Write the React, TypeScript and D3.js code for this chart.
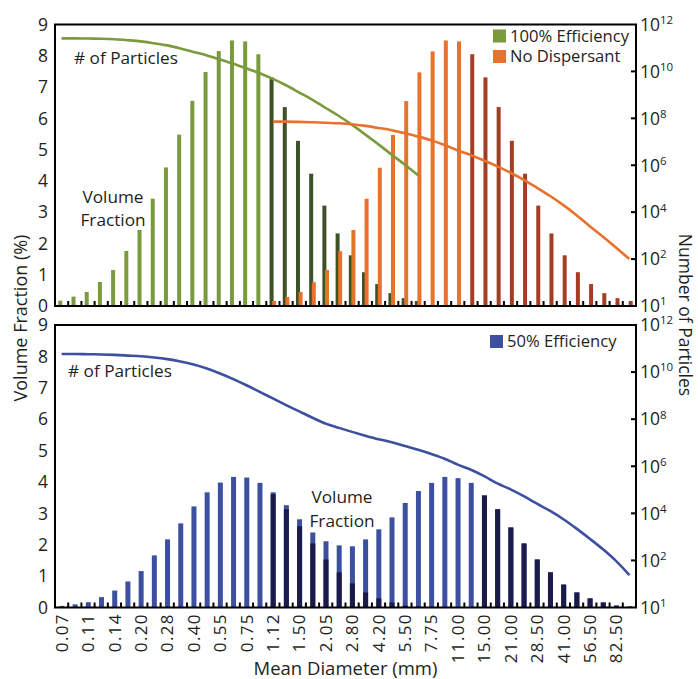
import React from 'react';
import * as d3 from 'd3';

// x categories: one label every other bin (44 bins)
const diameterLabels = ['0.07', '0.11', '0.14', '0.20', '0.28', '0.40', '0.55', '0.75', '1.12', '1.50', '2.05',
  '2.80', '4.20', '5.50', '7.75', '11.00', '15.00', '21.00', '28.50', '41.00', '56.50', '82.50'];
const binCount = 44;

// top panel: volume fraction (%)
const eff100Start = 0;
const eff100Volume = [0.17, 0.30, 0.45, 0.77, 1.15, 1.76, 2.43, 3.43, 4.43, 5.48, 6.56, 7.48, 8.15, 8.49,
  8.46, 8.05, 7.31, 6.36, 5.28, 4.23, 3.21, 2.32, 1.62, 1.08, 0.70, 0.41, 0.25, 0.16];
const noDispStart = 16;
const noDispVolume = [0.16, 0.29, 0.45, 0.76, 1.15, 1.75, 2.43, 3.43, 4.42, 5.47, 6.55, 7.47, 8.14, 8.49,
  8.46, 8.05, 7.31, 6.36, 5.28, 4.23, 3.21, 2.32, 1.62, 1.08, 0.70, 0.41, 0.25, 0.16];
const eff100DarkFrom = 16;
const noDispDarkFrom = 31;

// top panel: number of particles (log10)
const eff100Particles = [11.41, 11.41, 11.40, 11.39, 11.37, 11.33, 11.28, 11.20, 11.11, 10.98, 10.83, 10.68,
  10.51, 10.33, 10.13, 9.92, 9.68, 9.41, 9.10, 8.79, 8.44, 8.10, 7.72, 7.31, 6.89, 6.45, 6.02, 5.57];
const noDispParticles = [7.86, 7.86, 7.85, 7.83, 7.81, 7.79, 7.75, 7.68, 7.59, 7.49, 7.36, 7.22, 7.06, 6.86,
  6.63, 6.43, 6.20, 5.95, 5.68, 5.38, 5.04, 4.69, 4.30, 3.87, 3.40, 2.95, 2.48, 2.00];

// bottom panel: 50% efficiency
const eff50Volume = [0.05, 0.10, 0.17, 0.33, 0.54, 0.83, 1.16, 1.66, 2.17, 2.68, 3.22, 3.67, 3.98, 4.16,
  4.14, 3.97, 3.67, 3.26, 2.81, 2.39, 2.11, 1.98, 1.95, 2.17, 2.49, 2.87, 3.33, 3.71, 3.97, 4.16,
  4.12, 3.97, 3.57, 3.13, 2.55, 2.04, 1.53, 1.12, 0.73, 0.48, 0.29, 0.16, 0.06, 0.03];
const eff50Dark = [0, 0, 0, 0, 0, 0, 0, 0, 0, 0, 0, 0, 0, 0,
  0, 0, 3.61, 3.13, 2.59, 2.04, 1.53, 1.12, 0.77, 0.48, 0.29, 0.16, 0.06, 0.03, 0, 0,
  0, 0, 3.57, 3.13, 2.55, 2.04, 1.53, 1.12, 0.73, 0.48, 0.29, 0.16, 0.06, 0.03];
const eff50Particles = [10.77, 10.77, 10.76, 10.75, 10.73, 10.70, 10.67, 10.62, 10.55, 10.45, 10.32, 10.15,
  9.94, 9.70, 9.44, 9.16, 8.88, 8.60, 8.33, 8.06, 7.81, 7.63, 7.46, 7.30, 7.15, 7.02, 6.86, 6.70,
  6.52, 6.32, 6.07, 5.85, 5.58, 5.27, 5.02, 4.73, 4.41, 4.10, 3.75, 3.35, 2.92, 2.47, 1.97, 1.38];

const volumeTicks = [0, 1, 2, 3, 4, 5, 6, 7, 8, 9];
const countTicks = [1, 1e2, 1e4, 1e6, 1e8, 1e10, 1e12];
const countTickExps = ['1', '2', '4', '6', '8', '10', '12'];

const FONT = '"Open Sans", sans-serif';
const INK = '#231f20';
const C = {
  green: '#7b9a3d', darkGreen: '#3e5228', orange: '#e8712b', darkRed: '#a33d23',
  blue: '#3c4fa1', navy: '#1a1b4b',
};

const left = 55, right = 636;
const x = d3.scaleBand<number>().domain(d3.range(binCount)).range([left, right]);
const cx = (i: number) => (x(i) as number) + x.bandwidth() / 2;

function Frame({ top, bottom, children }: { top: number; bottom: number; children?: React.ReactNode }) {
  const yVol = d3.scaleLinear().domain([0, 9]).range([bottom, top]);
  const yLog = d3.scaleLog().domain([1, 1e12]).range([bottom, top]);
  return (
    <g>
      {children}
      {d3.range(1, binCount).map((i) => (
        <line key={'t' + i} x1={x(i)} x2={x(i)} y1={bottom} y2={bottom - 5} stroke="#000" strokeWidth={2} />
      ))}
      {countTicks.slice(1, -1).map((t) => (
        <line key={'r' + t} x1={right - 5} x2={right} y1={yLog(t)} y2={yLog(t)} stroke="#000" strokeWidth={2} />
      ))}
      <rect x={left} y={top} width={right - left} height={bottom - top} fill="none" stroke="#000" strokeWidth={2} />
      {volumeTicks.map((t) => (
        <text key={'l' + t} x={48} y={yVol(t)} dy="0.36em" textAnchor="end" fontSize={17.5} fill={INK}>{t}</text>
      ))}
      {countTicks.map((t, k) => (
        <text key={'e' + t} x={640} y={yLog(t)} dy="0.36em" fontSize={17.5} fill={INK}>
          10<tspan dy="-0.6em" fontSize={11.5}>{countTickExps[k]}</tspan>
        </text>
      ))}
    </g>
  );
}

function App() {
  const t1 = 24.5, b1 = 306;
  const t2 = 325, b2 = 607.5;
  const yVol1 = d3.scaleLinear().domain([0, 9]).range([b1, t1]);
  const yLog1 = d3.scaleLog().domain([1, 1e12]).range([b1, t1]);
  const yVol2 = d3.scaleLinear().domain([0, 9]).range([b2, t2]);
  const yLog2 = d3.scaleLog().domain([1, 1e12]).range([b2, t2]);

  const line = (yLog: d3.ScaleLogarithmic<number, number>, start: number) =>
    d3.line<number>()
      .x((_, k) => cx(start + k))
      .y((v) => yLog(10 ** v))
      .curve(d3.curveMonotoneX);

  const legendRow = (xx: number, yy: number, color: string, label: string) => (
    <g key={label}>
      <rect x={xx} y={yy - 6.5} width={13} height={13} fill={color} />
      <text x={xx + 17} y={yy} dy="0.36em" fontSize={16.6} fill={INK}>{label}</text>
    </g>
  );

  return (
    <svg width={698} height={679} style={{ position: 'absolute', left: 0, top: 0, background: '#fff' }}
      fontFamily={FONT}>
      {/* top panel */}
      <Frame top={t1} bottom={b1}>
        {eff100Volume.map((v, k) => {
          const i = eff100Start + k;
          return <rect key={'g' + i} x={cx(i) - 3.3} width={4} y={yVol1(v)} height={b1 - yVol1(v)}
            fill={i >= eff100DarkFrom ? C.darkGreen : C.green} />;
        })}
        {noDispVolume.map((v, k) => {
          const i = noDispStart + k;
          return <rect key={'o' + i} x={cx(i) - 0.7} width={4} y={yVol1(v)} height={b1 - yVol1(v)}
            fill={i >= noDispDarkFrom ? C.darkRed : C.orange} />;
        })}
        <path d={line(yLog1, eff100Start)(eff100Particles) as string} fill="none" stroke={C.green} strokeWidth={2.6} />
        <path d={line(yLog1, noDispStart)(noDispParticles) as string} fill="none" stroke={C.orange} strokeWidth={2.6} />
        {legendRow(493, 36, C.green, '100% Efficiency')}
        {legendRow(493, 56.5, C.orange, 'No Dispersant')}
        <text x={74} y={64} fontSize={17.2} fill={INK}># of Particles</text>
        <text x={113} y={203} fontSize={17.2} fill={INK} textAnchor="middle">Volume</text>
        <text x={113} y={226} fontSize={17.2} fill={INK} textAnchor="middle">Fraction</text>
      </Frame>

      {/* bottom panel */}
      <Frame top={t2} bottom={b2}>
        {eff50Volume.map((v, i) => (
          <rect key={'b' + i} x={cx(i) - 2.2} width={5} y={yVol2(v)} height={b2 - yVol2(v)} fill={C.blue} />
        ))}
        {eff50Dark.map((v, i) => v > 0 && (
          <rect key={'n' + i} x={cx(i) - 2.2} width={5} y={yVol2(v)} height={b2 - yVol2(v)} fill={C.navy} />
        ))}
        <path d={line(yLog2, 0)(eff50Particles) as string} fill="none" stroke={C.blue} strokeWidth={2.6} />
        {legendRow(490, 341.5, C.blue, '50% Efficiency')}
        <text x={68} y={377} fontSize={17.2} fill={INK}># of Particles</text>
        <text x={342} y={503} fontSize={17.2} fill={INK} textAnchor="middle">Volume</text>
        <text x={342} y={527} fontSize={17.2} fill={INK} textAnchor="middle">Fraction</text>
      </Frame>

      {/* x axis labels */}
      {diameterLabels.map((lab, k) => (
        <text key={lab} transform={`translate(${cx(k * 2)},613) rotate(-90)`} dy="0.36em" textAnchor="end"
          fontSize={17} letterSpacing={1.4} fill={INK}>{lab}</text>
      ))}
      <text x={345.5} y={675} textAnchor="middle" fontSize={18.5} fill={INK}>Mean Diameter (mm)</text>
      <text transform="translate(21,318) rotate(-90)" dy="0.36em" textAnchor="middle" fontSize={18} fill={INK}>
        Volume Fraction (%)
      </text>
      <text transform="translate(685,315) rotate(90)" dy="0.36em" textAnchor="middle" fontSize={17.5} fill={INK}>
        Number of Particles
      </text>
    </svg>
  );
}

export default App;
